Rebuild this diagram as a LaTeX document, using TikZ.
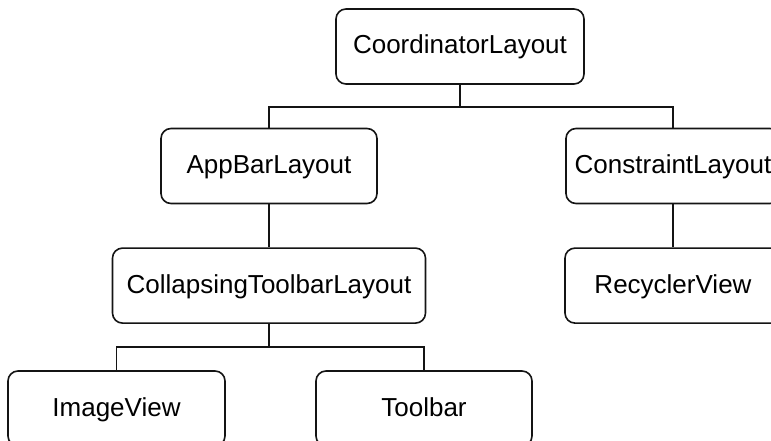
\documentclass[tikz,border=0pt]{standalone}
\usepackage{fontspec}
\setmainfont{Liberation Sans}
\usetikzlibrary{positioning,calc}
\definecolor{EdgeBlack}{RGB}{20,20,20}
\tikzset{
  link/.style={line width=1.6pt,draw=EdgeBlack},
  box/.style={draw=EdgeBlack,fill=white,line width=1.6pt,rounded corners=10pt,
    minimum height=75pt,minimum width=216pt,align=center,
    text height=19pt,text depth=4pt,
    font=\fontsize{26}{30}\selectfont},
  widebox/.style={box,minimum width=248pt},
  longbox/.style={box,minimum width=313pt}
}

\begin{document}
\begin{tikzpicture}[x=1pt,y=1pt,node distance=43pt]
  \useasboundingbox (0,0) rectangle (771,-441);
  \node[widebox] (coordinator) at (460,-46.5) {CoordinatorLayout};
  \node[box] (appbar) at (269,-166) {AppBarLayout};
  \node[box,minimum width=214pt] (constraint) at (673,-166) {ConstraintLayout};
  \node[longbox,below=of appbar] (collapsing) {CollapsingToolbarLayout};
  \node[box,below=of constraint] (recycler) {RecyclerView};
  \node[box,minimum width=217pt] (imageview) at (116.5,-408.5) {ImageView};
  \node[box] (toolbar) at (424,-408.5) {Toolbar};
  \coordinate (busone) at (0,-107);
  \coordinate (bustwo) at (0,-347);
  \draw[link] (coordinator.south) -- (coordinator.south|-busone) -| (appbar.north);
  \draw[link] (coordinator.south|-busone) -| (constraint.north);
  \draw[link] (appbar) -- (collapsing);
  \draw[link] (constraint) -- (recycler);
  \draw[link] (collapsing.south) -- (collapsing.south|-bustwo) -| (imageview.north);
  \draw[link] (collapsing.south|-bustwo) -| (toolbar.north);
\end{tikzpicture}
\end{document}
